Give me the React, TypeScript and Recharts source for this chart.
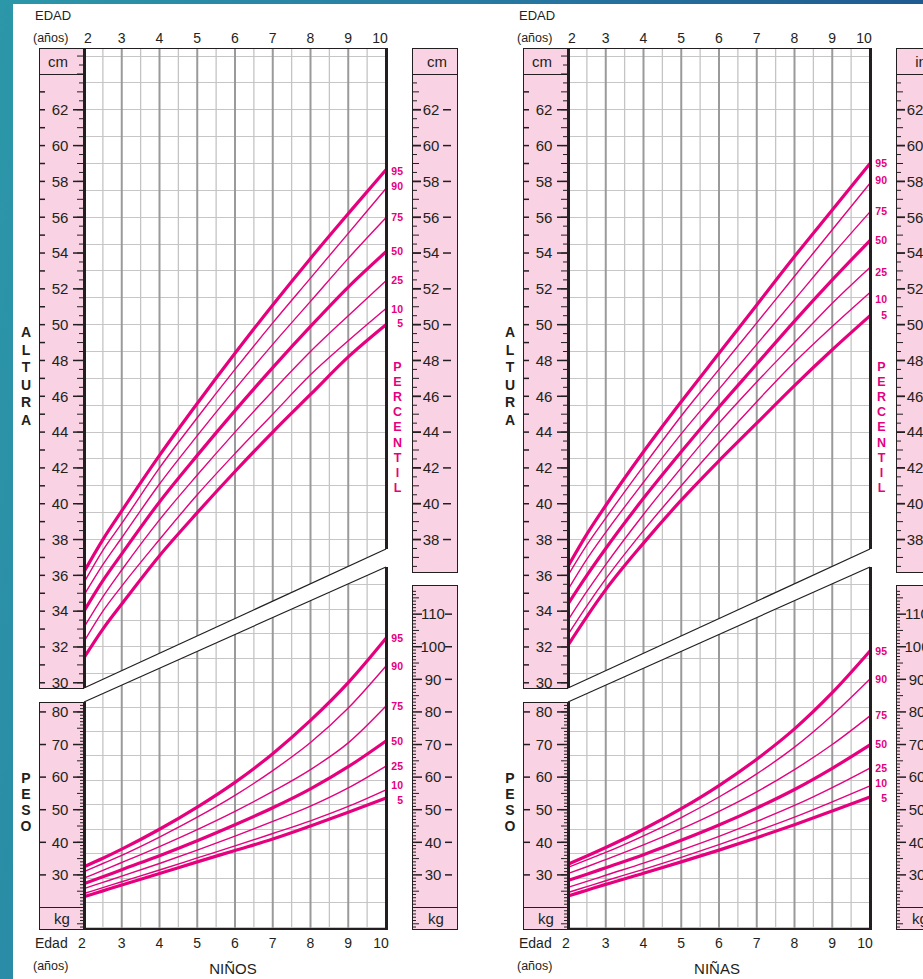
import React from 'react';
import { ComposedChart, Line, Area, XAxis, YAxis, CartesianGrid } from 'recharts';

const FONT = "'Liberation Sans', Arial, sans-serif";
const INK = '#231f20';
const PINK = '#f9d3e3';
const MAGENTA = '#e6007e';

// edades (años) y percentiles
const AGES = [2, 2.5, 3, 4, 5, 6, 7, 8, 9, 10];
const AGE_LABELS = [2, 3, 4, 5, 6, 7, 8, 9, 10];
const PERCENTILES = [95, 90, 75, 50, 25, 10, 5];
const THICK = [95, 50, 5];

// Niños - altura
const BOYS_H95 = [36.2, 38.0, 39.6, 42.7, 45.6, 48.4, 51.1, 53.7, 56.2, 58.65];
const BOYS_H90 = [35.6, 37.4, 38.9, 42.0, 44.8, 47.5, 50.1, 52.6, 55.1, 57.6];
const BOYS_H75 = [34.9, 36.6, 38.1, 41.1, 43.8, 46.4, 48.9, 51.3, 53.7, 55.97];
const BOYS_H50 = [34.0, 35.7, 37.2, 40.1, 42.7, 45.2, 47.6, 49.9, 52.1, 54.07];
const BOYS_H25 = [33.1, 34.8, 36.3, 39.1, 41.6, 44.0, 46.3, 48.5, 50.5, 52.45];
const BOYS_H10 = [32.3, 34.0, 35.4, 38.0, 40.5, 42.8, 45.0, 47.2, 49.1, 50.9];
const BOYS_H5 = [31.4, 33.0, 34.4, 37.1, 39.5, 41.8, 44.0, 46.1, 48.2, 50.0];

// Niños - peso
const BOYS_W95 = [32.5, 35.1, 37.9, 44.0, 50.8, 58.4, 67.2, 77.4, 89.0, 102.6];
const BOYS_W90 = [31.0, 33.5, 36.0, 41.6, 47.7, 54.4, 62.0, 70.6, 81.2, 94.1];
const BOYS_W75 = [29.0, 31.4, 33.8, 38.7, 43.9, 49.5, 55.6, 62.3, 70.5, 81.8];
const BOYS_W50 = [27.3, 29.4, 31.6, 35.9, 40.5, 45.4, 50.6, 56.4, 63.2, 71.1];
const BOYS_W25 = [25.8, 27.7, 29.6, 33.5, 37.6, 41.9, 46.4, 51.1, 56.7, 63.4];
const BOYS_W10 = [24.3, 26.1, 27.9, 31.5, 35.2, 38.9, 42.7, 46.6, 51.0, 56.1];
const BOYS_W5 = [23.3, 25.1, 26.9, 30.4, 34.0, 37.5, 41.0, 45.0, 49.2, 53.6];

// Niñas - altura
const GIRLS_H95 = [36.5, 38.3, 39.9, 42.9, 45.7, 48.4, 51.1, 53.8, 56.4, 59.0];
const GIRLS_H90 = [36.0, 37.7, 39.2, 42.1, 44.9, 47.5, 50.1, 52.7, 55.3, 57.9];
const GIRLS_H75 = [35.2, 36.9, 38.4, 41.2, 43.9, 46.4, 48.9, 51.4, 53.9, 56.3];
const GIRLS_H50 = [34.4, 36.0, 37.5, 40.3, 42.9, 45.4, 47.8, 50.2, 52.5, 54.7];
const GIRLS_H25 = [33.5, 35.1, 36.6, 39.4, 42.0, 44.5, 46.8, 49.0, 51.2, 53.2];
const GIRLS_H10 = [32.7, 34.3, 35.8, 38.5, 41.0, 43.4, 45.7, 47.9, 49.9, 51.8];
const GIRLS_H5 = [32.1, 33.7, 35.2, 37.8, 40.2, 42.4, 44.5, 46.6, 48.6, 50.5];

// Niñas - peso
const GIRLS_W95 = [33.3, 35.8, 38.4, 44.0, 50.3, 57.4, 65.5, 74.8, 85.9, 98.7];
const GIRLS_W90 = [32.3, 34.6, 36.9, 42.0, 47.6, 53.9, 61.0, 69.2, 79.0, 90.1];
const GIRLS_W75 = [30.4, 32.5, 34.7, 39.2, 44.1, 49.5, 55.5, 62.3, 70.0, 78.8];
const GIRLS_W50 = [28.3, 30.2, 32.2, 36.2, 40.6, 45.3, 50.5, 56.2, 62.7, 69.9];
const GIRLS_W25 = [26.2, 28.0, 29.9, 33.6, 37.6, 41.8, 46.4, 51.3, 56.8, 62.8];
const GIRLS_W10 = [24.6, 26.4, 28.2, 31.7, 35.4, 39.3, 43.4, 47.7, 52.4, 57.3];
const GIRLS_W5 = [23.5, 25.3, 27.1, 30.5, 34.0, 37.6, 41.4, 45.4, 49.6, 53.9];

// franja blanca que separa altura y peso (en unidades de altura)
const BAND_AGES = [2, 10];
const BAND_LOW = [28.93, 36.47];
const BAND_HIGH = [29.71, 37.47];

const H_DOMAIN = [16.25, 65.45];
const W_DOMAIN = [13.4, 283.7];

const range = (a: number, b: number, s: number) => {
  const out: number[] = [];
  for (let v = a; v <= b + 1e-9; v += s) out.push(Math.round(v * 100) / 100);
  return out;
};

const H_TICKS_L = range(30, 65, 0.5);
const W_TICKS_L = range(14, 82, 1);
const H_TICKS_R = range(36.5, 63.5, 0.5);
const W_TICKS_R = range(14, 117, 1);
const GRID_H = range(29, 65, 0.5);
const GRID_W = range(14, 126.5, 1.5);
const GRID_V_MINOR = range(2.5, 9.5, 1);
const GRID_V_MAJOR = range(3, 9, 1);

// zonas de la cuadrícula (px del panel) separadas por la franja
const CLIP_HEIGHT = '84px 48px, 386px 48px, 386px 549px, 84px 688px';
const CLIP_WEIGHT = '84px 702px, 386px 567px, 386px 929px, 84px 929px';

const txt = { fontFamily: FONT, fill: INK };

const LeftHeightTick = ({ y, payload }: any) => {
  const v = payload.value;
  const isInt = Number.isInteger(v);
  const labeled = isInt && v % 2 === 0 && v <= 62;
  return (
    <g>
      <line x1={isInt ? 77 : 79} x2={84} y1={y} y2={y} stroke={INK} strokeWidth={1} />
      {isInt && v <= 63 && <line x1={39} x2={45} y1={y} y2={y} stroke={INK} strokeWidth={1.5} />}
      {labeled && <line x1={73} x2={84} y1={y} y2={y} stroke={INK} strokeWidth={1.5} />}
      {labeled && <text x={60} y={y + 5.3} textAnchor="middle" fontSize={15} {...txt}>{v}</text>}
    </g>
  );
};

const LeftWeightTick = ({ y, payload }: any) => {
  const v = payload.value;
  const five = v % 5 === 0;
  const labeled = v % 10 === 0 && v >= 30 && v <= 80;
  return (
    <g>
      <line x1={five ? 77 : 80} x2={84} y1={y} y2={y} stroke={INK} strokeWidth={1} />
      {labeled && <line x1={39} x2={46} y1={y} y2={y} stroke={INK} strokeWidth={1.5} />}
      {labeled && <line x1={73} x2={84} y1={y} y2={y} stroke={INK} strokeWidth={1.5} />}
      {labeled && <text x={60} y={y + 5.3} textAnchor="middle" fontSize={15} {...txt}>{v}</text>}
    </g>
  );
};

const RightHeightTick = ({ y, payload }: any) => {
  const v = payload.value;
  const isInt = Number.isInteger(v);
  const labeled = isInt && v % 2 === 0 && v <= 62;
  return (
    <g>
      <line x1={412} x2={labeled ? 421 : isInt ? 419 : 417} y1={y} y2={y} stroke={INK} strokeWidth={labeled ? 1.8 : 1} />
      {labeled && <line x1={443} x2={451} y1={y} y2={y} stroke={INK} strokeWidth={1.5} />}
      {labeled && <text x={431} y={y + 5.3} textAnchor="middle" fontSize={15} {...txt}>{v}</text>}
    </g>
  );
};

const RightWeightTick = ({ y, payload }: any) => {
  const v = payload.value;
  const five = v % 5 === 0;
  const labeled = v % 10 === 0 && v >= 30 && v <= 110;
  return (
    <g>
      <line x1={412} x2={labeled ? 422 : five ? 419 : 416} y1={y} y2={y} stroke={INK} strokeWidth={labeled ? 1.5 : 1} />
      {labeled && <line x1={445} x2={452} y1={y} y2={y} stroke={INK} strokeWidth={1.5} />}
      {labeled && <text x={433} y={y + 5.3} textAnchor="middle" fontSize={15} {...txt}>{v}</text>}
    </g>
  );
};

const AgeTick = ({ x, y, payload, top }: any) => {
  const v = payload.value;
  const dx = top ? (v === 2 ? 4 : v === 10 ? -6 : 0) : v === 2 ? -2 : v === 10 ? -5 : 0;
  return (
    <text x={x + dx} y={top ? y - 5 : y + 19} textAnchor="middle" fontSize={14} {...txt}>
      {v}
    </text>
  );
};

const Abs: React.FC<{ x: number; y: number; size: number; center?: boolean; color?: string; weight?: number; children: React.ReactNode }> = ({ x, y, size, center, color = INK, weight = 400, children }) => (
  <div
    style={{
      position: 'absolute', left: x, top: y, fontSize: size, lineHeight: 1, color, fontWeight: weight,
      transform: center ? 'translate(-50%, -50%)' : 'translate(0, -50%)', whiteSpace: 'nowrap', zIndex: 3,
    }}
  >
    {children}
  </div>
);

const Stack: React.FC<{ word: string; x: number; y: number; step: number; size: number; color?: string; weight?: number }> = ({ word, x, y, step, size, color, weight }) => (
  <>
    {word.split('').map((c, i) => (
      <Abs key={i} x={x} y={y + i * step} size={size} center color={color} weight={weight}>{c}</Abs>
    ))}
  </>
);

const boxStyle = (l: number, t: number, w: number, h: number): React.CSSProperties => ({
  position: 'absolute', left: l, top: t, width: w, height: h, background: PINK,
  border: `1.5px solid ${INK}`, boxSizing: 'border-box', zIndex: 0,
});
const bar = (l: number, t: number, w: number, h: number): React.CSSProperties => ({
  position: 'absolute', left: l, top: t, width: w, height: h, background: INK, zIndex: 2,
});

// cuadrícula horizontal de una zona (altura o peso), recortada a su región
const GridLayer: React.FC<{ clip: string; domain: number[]; values: number[] }> = ({ clip, domain, values }) => (
  <div style={{ position: 'absolute', left: 0, top: 0, zIndex: 1, clipPath: `polygon(${clip})`, shapeRendering: 'crispEdges' } as React.CSSProperties}>
    <ComposedChart width={470} height={979} data={AGES.map((age) => ({ age }))} margin={{ top: 48, right: 84, bottom: 50, left: 84 }}>
      <XAxis xAxisId="g" dataKey="age" type="number" domain={[2, 10]} allowDataOverflow hide />
      <YAxis yAxisId="g" type="number" domain={domain} allowDataOverflow hide />
      <CartesianGrid xAxisId="g" yAxisId="g" vertical={false} horizontalValues={values} stroke="#c6c6c6" strokeWidth={1} />
    </ComposedChart>
  </div>
);

type PanelProps = {
  left: number;
  title: string;
  rightUnit: string;
  height: number[][];
  weight: number[][];
  hNudge: number[];
  wNudge: number[];
};

const Panel: React.FC<PanelProps> = ({ left, title, rightUnit, height, weight, hNudge, wNudge }) => {
  const rows = AGES.map((age, i) => {
    const r: any = { age };
    PERCENTILES.forEach((p, k) => {
      r['h' + p] = height[k][i];
      r['w' + p] = weight[k][i];
    });
    return r;
  });
  const band = BAND_AGES.map((age, i) => ({ age, band: [BAND_LOW[i], BAND_HIGH[i]] }));
  const last = AGES.length - 1;

  const endLabel = (p: number, nudge: number, key: string) => (props: any) => {
    const { cx, cy, index } = props;
    if (index !== last) return <g key={`${key}-${index}`} />;
    return (
      <text key={`${key}-${index}`} x={cx + 17} y={cy + 3.6 + nudge} textAnchor="end" fontSize={10.5} fontWeight={700} fill={MAGENTA} fontFamily={FONT}>
        {p}
      </text>
    );
  };

  return (
    <div style={{ position: 'absolute', left, top: 0, width: 470, height: 979 }}>
      {/* cajas rosas de las escalas */}
      <div style={boxStyle(39, 48, 46, 641)} />
      <div style={{ ...bar(39, 73.5, 46, 1.5), zIndex: 1 }} />
      <div style={boxStyle(39, 702, 46, 228)} />
      <div style={{ ...bar(39, 906.5, 46, 1.5), zIndex: 1 }} />
      <div style={boxStyle(412, 48, 45.5, 525)} />
      <div style={{ ...bar(412, 73.5, 45.5, 1.5), zIndex: 1 }} />
      <div style={boxStyle(412, 585, 45.5, 345)} />
      <div style={{ ...bar(412, 906.5, 45.5, 1.5), zIndex: 1 }} />

      <GridLayer clip={CLIP_HEIGHT} domain={H_DOMAIN} values={GRID_H} />
      <GridLayer clip={CLIP_WEIGHT} domain={W_DOMAIN} values={GRID_W} />

      <div style={{ position: 'absolute', left: 0, top: 0, zIndex: 1 }}>
        <ComposedChart width={470} height={979} data={rows} margin={{ top: 18, right: 12, bottom: 20, left: 38 }}>
          <CartesianGrid xAxisId="b" yAxisId="h" horizontal={false} verticalValues={GRID_V_MINOR} stroke="#c4c4c4" strokeWidth={1.3} />
          <CartesianGrid xAxisId="b" yAxisId="h" horizontal={false} verticalValues={GRID_V_MAJOR} stroke="#9a9a9a" strokeWidth={2} />
          <XAxis xAxisId="b" dataKey="age" type="number" domain={[2, 10]} ticks={AGE_LABELS} orientation="bottom" height={30} axisLine={false} tickLine={false} tickSize={0} tickMargin={0} interval={0} tick={(p: any) => <AgeTick {...p} />} />
          <XAxis xAxisId="t" dataKey="age" type="number" domain={[2, 10]} ticks={AGE_LABELS} orientation="top" height={30} axisLine={false} tickLine={false} tickSize={0} tickMargin={0} interval={0} tick={(p: any) => <AgeTick {...p} top />} />
          <YAxis yAxisId="h" orientation="left" width={45} type="number" domain={H_DOMAIN} ticks={H_TICKS_L} interval={0} axisLine={false} tickLine={false} tick={(p: any) => <LeftHeightTick {...p} />} />
          <YAxis yAxisId="w" orientation="left" width={1} type="number" domain={W_DOMAIN} ticks={W_TICKS_L} interval={0} axisLine={false} tickLine={false} tick={(p: any) => <LeftWeightTick {...p} />} />
          <YAxis yAxisId="hr" orientation="right" width={71} type="number" domain={H_DOMAIN} allowDataOverflow ticks={H_TICKS_R} interval={0} axisLine={false} tickLine={false} tick={(p: any) => <RightHeightTick {...p} />} />
          <YAxis yAxisId="wr" orientation="right" width={1} type="number" domain={W_DOMAIN} allowDataOverflow ticks={W_TICKS_R} interval={0} axisLine={false} tickLine={false} tick={(p: any) => <RightWeightTick {...p} />} />

          <Area xAxisId="b" yAxisId="h" data={band} dataKey="band" type="linear" fill="#ffffff" fillOpacity={1} stroke={INK} strokeWidth={1.2} isAnimationActive={false} dot={false} activeDot={false} />

          {PERCENTILES.map((p, k) => (
            <Line key={'h' + p} xAxisId="b" yAxisId="h" dataKey={'h' + p} type="monotone" stroke={MAGENTA}
              strokeWidth={THICK.includes(p) ? 3.2 : 1.4} isAnimationActive={false} activeDot={false}
              dot={endLabel(p, hNudge[k], 'hl' + p)} />
          ))}
          {PERCENTILES.map((p, k) => (
            <Line key={'w' + p} xAxisId="b" yAxisId="w" dataKey={'w' + p} type="monotone" stroke={MAGENTA}
              strokeWidth={THICK.includes(p) ? 3.2 : 1.4} isAnimationActive={false} activeDot={false}
              dot={endLabel(p, wNudge[k], 'wl' + p)} />
          ))}
        </ComposedChart>
      </div>

      {/* marco del área de trazado */}
      <div style={bar(84, 47.5, 302, 1.2)} />
      <div style={bar(84, 928, 303.5, 2)} />
      <div style={bar(83, 48, 2.5, 640)} />
      <div style={bar(83, 702, 2.5, 228)} />
      <div style={bar(385, 48, 2.5, 501)} />
      <div style={bar(385, 567, 2.5, 363)} />

      {/* encabezados de unidades */}
      <Abs x={58} y={61} size={15} center>cm</Abs>
      <Abs x={62} y={918} size={15} center>kg</Abs>
      <Abs x={437} y={61} size={15} center>{rightUnit}</Abs>
      <Abs x={436} y={918} size={15} center>kg</Abs>

      <Abs x={35} y={15} size={13}>EDAD</Abs>
      <Abs x={33} y={38} size={12.5}>(años)</Abs>
      <Abs x={35} y={943} size={14}>Edad</Abs>
      <Abs x={33} y={966} size={12.5}>(años)</Abs>
      <Abs x={233} y={968} size={15} center>{title}</Abs>

      <Stack word="ALTURA" x={26} y={332} step={17.5} size={14} weight={700} />
      <Stack word="PESO" x={26} y={778} step={16} size={14} weight={700} />
      <Stack word="PERCENTIL" x={397.5} y={367} step={15.1} size={12.5} color={MAGENTA} weight={700} />
    </div>
  );
};

export default function App() {
  return (
    <div
      style={{
        position: 'absolute', left: 0, top: 0, width: 923, height: 979, overflow: 'hidden', fontFamily: FONT,
        background: 'linear-gradient(100deg, #2c97a9 0%, #2779a2 45%, #1c4e8a 100%)',
      }}
    >
      <div style={{ position: 'absolute', left: 13, top: 4, right: 0, bottom: 0, background: '#ffffff' }} />
      <Panel
        left={0}
        title="NIÑOS"
        rightUnit="cm"
        height={[BOYS_H95, BOYS_H90, BOYS_H75, BOYS_H50, BOYS_H25, BOYS_H10, BOYS_H5]}
        weight={[BOYS_W95, BOYS_W90, BOYS_W75, BOYS_W50, BOYS_W25, BOYS_W10, BOYS_W5]}
        hNudge={[2, -2, 0, 0, 0, 1, -1]}
        wNudge={[0, 0, 0, 0, 0, -4, 2]}
      />
      <Panel
        left={484}
        title="NIÑAS"
        rightUnit="in"
        height={[GIRLS_H95, GIRLS_H90, GIRLS_H75, GIRLS_H50, GIRLS_H25, GIRLS_H10, GIRLS_H5]}
        weight={[GIRLS_W95, GIRLS_W90, GIRLS_W75, GIRLS_W50, GIRLS_W25, GIRLS_W10, GIRLS_W5]}
        hNudge={[0, -3, 0, 0, 5, 7, 0]}
        wNudge={[0, 0, 0, 0, 0, -3, 1]}
      />
    </div>
  );
}
